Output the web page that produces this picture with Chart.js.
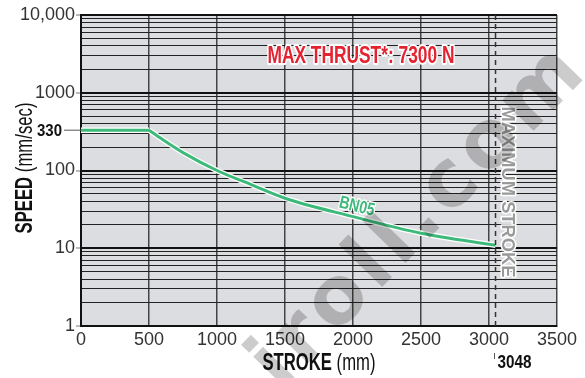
<!DOCTYPE html>
<html>
<head>
<meta charset="utf-8">
<script src="https://cdn.jsdelivr.net/npm/chart.js@4/dist/chart.umd.min.js"></script>
<style>
  html, body { margin: 0; padding: 0; background: #fff; }
  #wrap { width: 585px; height: 378px; }
</style>
</head>
<body>
<div id="wrap"><canvas id="speed-chart" width="585" height="378"></canvas></div>
<script>
// BN05 speed vs stroke curve

const strokeMm = [0, 500, 600, 750, 1000, 1250, 1500, 2000, 2500, 3048];
const speedMmS = [330, 330, 250, 170, 100, 66, 44, 25.5, 15.6, 10.9];

const xTickValues = [0, 500, 1000, 1500, 2000, 2500, 3000, 3500];
const yDecades = [1, 10, 100, 1000, 10000];
const yDecadeLabels = ['1', '10', '100', '1000', '10,000'];
const yMinorSteps = [1, 2, 3, 4, 5, 6, 7, 8, 9];

const ratedSpeed = 330;
const maxStroke = 3048;
const seriesName = 'BN05';
const thrustNote = 'MAX THRUST*: 7300 N';
const strokeNote = 'MAXIMUM STROKE';

const NARROW = '"Liberation Sans Narrow", "Liberation Sans", Arial, sans-serif';
const GREEN = '#3dba7a';
const PLOT_BG = '#dcdde0';

const yGridValues = yDecades.slice(0, -1)
  .flatMap(d => yMinorSteps.map(k => d * k))
  .concat(yDecades[yDecades.length - 1]);

const isDecade = v => yDecades.includes(v);

// flat part up to 500 mm stays straight, the falloff is smoothed
const pts = strokeMm.map((x, i) => ({ x, y: speedMmS[i] }));
const flatPts = pts.filter(p => p.x <= 500);
const curvePts = pts.filter(p => p.x >= 500);

// draws one or more text runs, squeezed to a given width
function textRuns(ctx, runs, x, y, o) {
  ctx.save();
  ctx.translate(x, y);
  if (o.rotate) ctx.rotate(o.rotate);
  let total = 0;
  runs.forEach(r => { ctx.font = r.font; r.w = ctx.measureText(r.text).width; total += r.w; });
  const sx = o.width ? o.width / total : 1;
  ctx.scale(sx, 1);
  let cx = o.align === 'left' ? 0 : o.align === 'right' ? -total : -total / 2;
  ctx.textBaseline = 'alphabetic';
  ctx.textAlign = 'left';
  runs.forEach(r => {
    ctx.font = r.font;
    if (o.halo) {
      ctx.lineJoin = 'round';
      ctx.lineWidth = o.halo;
      ctx.strokeStyle = '#fff';
      ctx.strokeText(r.text, cx, 0);
    }
    ctx.fillStyle = r.color || o.color || '#111';
    ctx.fillText(r.text, cx, 0);
    cx += r.w;
  });
  ctx.restore();
}

const backdrop = {
  id: 'backdrop',
  beforeDraw(chart) {
    const { ctx, chartArea: a } = chart;
    ctx.save();
    ctx.fillStyle = '#fff';
    ctx.fillRect(0, 0, chart.width, chart.height);
    ctx.fillStyle = PLOT_BG;
    ctx.fillRect(a.left, a.top, a.right - a.left, a.bottom - a.top);
    ctx.restore();
  }
};

const annotations = {
  id: 'annotations',
  afterDraw(chart) {
    const { ctx, chartArea: a } = chart;
    const xs = chart.scales.x, ys = chart.scales.y;

    // rated speed tick and label
    const py = ys.getPixelForValue(ratedSpeed);
    ctx.save();
    ctx.strokeStyle = '#555';
    ctx.lineWidth = 1;
    ctx.beginPath(); ctx.moveTo(64, py); ctx.lineTo(a.left, py); ctx.stroke();
    ctx.restore();
    textRuns(ctx, [{ text: String(ratedSpeed), font: `bold 17px ${NARROW}` }], 62, py + 6, { align: 'right', width: 25 });

    // maximum stroke marker
    const px = xs.getPixelForValue(maxStroke);
    ctx.save();
    ctx.strokeStyle = '#333';
    ctx.lineWidth = 1.5;
    ctx.setLineDash([5, 4]);
    ctx.beginPath(); ctx.moveTo(px, a.top); ctx.lineTo(px, a.bottom); ctx.stroke();
    ctx.setLineDash([]);
    ctx.lineWidth = 1;
    ctx.strokeStyle = '#555';
    ctx.beginPath(); ctx.moveTo(px - 1, a.bottom + 27); ctx.lineTo(px - 1, a.bottom + 33); ctx.stroke();
    ctx.restore();
    textRuns(ctx, [{ text: String(maxStroke), font: `bold 18px ${NARROW}` }], px + 2, a.bottom + 42, { align: 'left', width: 34 });

    textRuns(ctx, [{ text: strokeNote, font: `bold 19px ${NARROW}` }], px + 6, 192,
      { rotate: Math.PI / 2, width: 171, color: '#9a9a9a', halo: 3 });

    textRuns(ctx, [{ text: thrustNote, font: `bold 24px ${NARROW}` }], 361, 62.5,
      { width: 187, color: '#e52330', halo: 4 });

    // series label riding above the curve
    textRuns(ctx, [{ text: seriesName, font: `bold 18px ${NARROW}` }],
      xs.getPixelForValue(2020), ys.getPixelForValue(25.5) - 5,
      { rotate: 0.24, width: 36, color: GREEN, halo: 3 });

    // axis titles
    textRuns(ctx, [
      { text: 'STROKE', font: `bold 24px ${NARROW}` },
      { text: ' (mm)', font: `24px ${NARROW}` }
    ], 319, 370, { width: 113 });
    textRuns(ctx, [
      { text: 'SPEED', font: `bold 24px ${NARROW}` },
      { text: ' (mm/sec)', font: `24px ${NARROW}` }
    ], 32, 168, { rotate: -Math.PI / 2, width: 131 });

    // site stamp over the whole figure
    ctx.save();
    ctx.globalAlpha = 0.2;
    ctx.letterSpacing = '6px';
    textRuns(ctx, [{ text: 'iroll.com', font: `bold 80px "DejaVu Sans", sans-serif`, color: '#000' }],
      280, 392, { rotate: -0.8, align: 'left' });
    ctx.restore();
  }
};

new Chart(document.getElementById('speed-chart'), {
  type: 'line',
  data: {
    datasets: [
      { data: flatPts, borderColor: GREEN, borderWidth: 3, order: 1 },
      { data: curvePts, borderColor: GREEN, borderWidth: 3, cubicInterpolationMode: 'monotone', order: 1 },
      { data: flatPts, borderColor: '#fff', borderWidth: 5.5, order: 2 },
      { data: curvePts, borderColor: '#fff', borderWidth: 5.5, cubicInterpolationMode: 'monotone', order: 2 },
    ]
  },
  options: {
    responsive: false,
    animation: false,
    devicePixelRatio: 1,
    elements: { point: { radius: 0 }, line: { borderCapStyle: 'butt', borderJoinStyle: 'round' } },
    layout: { padding: { top: 15, right: 28, left: 0, bottom: 0 } },
    plugins: { legend: { display: false }, tooltip: { enabled: false } },
    scales: {
      x: {
        type: 'linear', min: 0, max: 3500,
        afterBuildTicks: s => { s.ticks = xTickValues.map(v => ({ value: v })); },
        afterFit: s => { s.height = 52; },
        grid: { color: '#444', lineWidth: 1.5, drawTicks: false },
        border: { color: '#111', width: 2 },
        ticks: { autoSkip: false, maxRotation: 0, padding: 3, color: '#333',
                 font: { family: NARROW, size: 18 }, callback: v => String(v) }
      },
      y: {
        type: 'logarithmic', min: 1, max: 10000,
        afterBuildTicks: s => { s.ticks = yGridValues.map(v => ({ value: v, major: isDecade(v) })); },
        afterFit: s => { s.width = 81; },
        grid: {
          color: c => isDecade(c.tick.value) ? '#111' : '#222',
          lineWidth: c => isDecade(c.tick.value) ? 2 : 1,
          tickColor: c => isDecade(c.tick.value) ? '#777' : 'rgba(0,0,0,0)',
          tickLength: 5, tickWidth: 1
        },
        border: { color: '#111', width: 2 },
        ticks: { autoSkip: false, padding: 1, color: '#333',
                 font: { family: NARROW, size: 18 },
                 callback: v => { const i = yDecades.indexOf(v); return i >= 0 ? yDecadeLabels[i] : ''; } }
      }
    }
  },
  plugins: [backdrop, annotations]
});
</script>
</body>
</html>
